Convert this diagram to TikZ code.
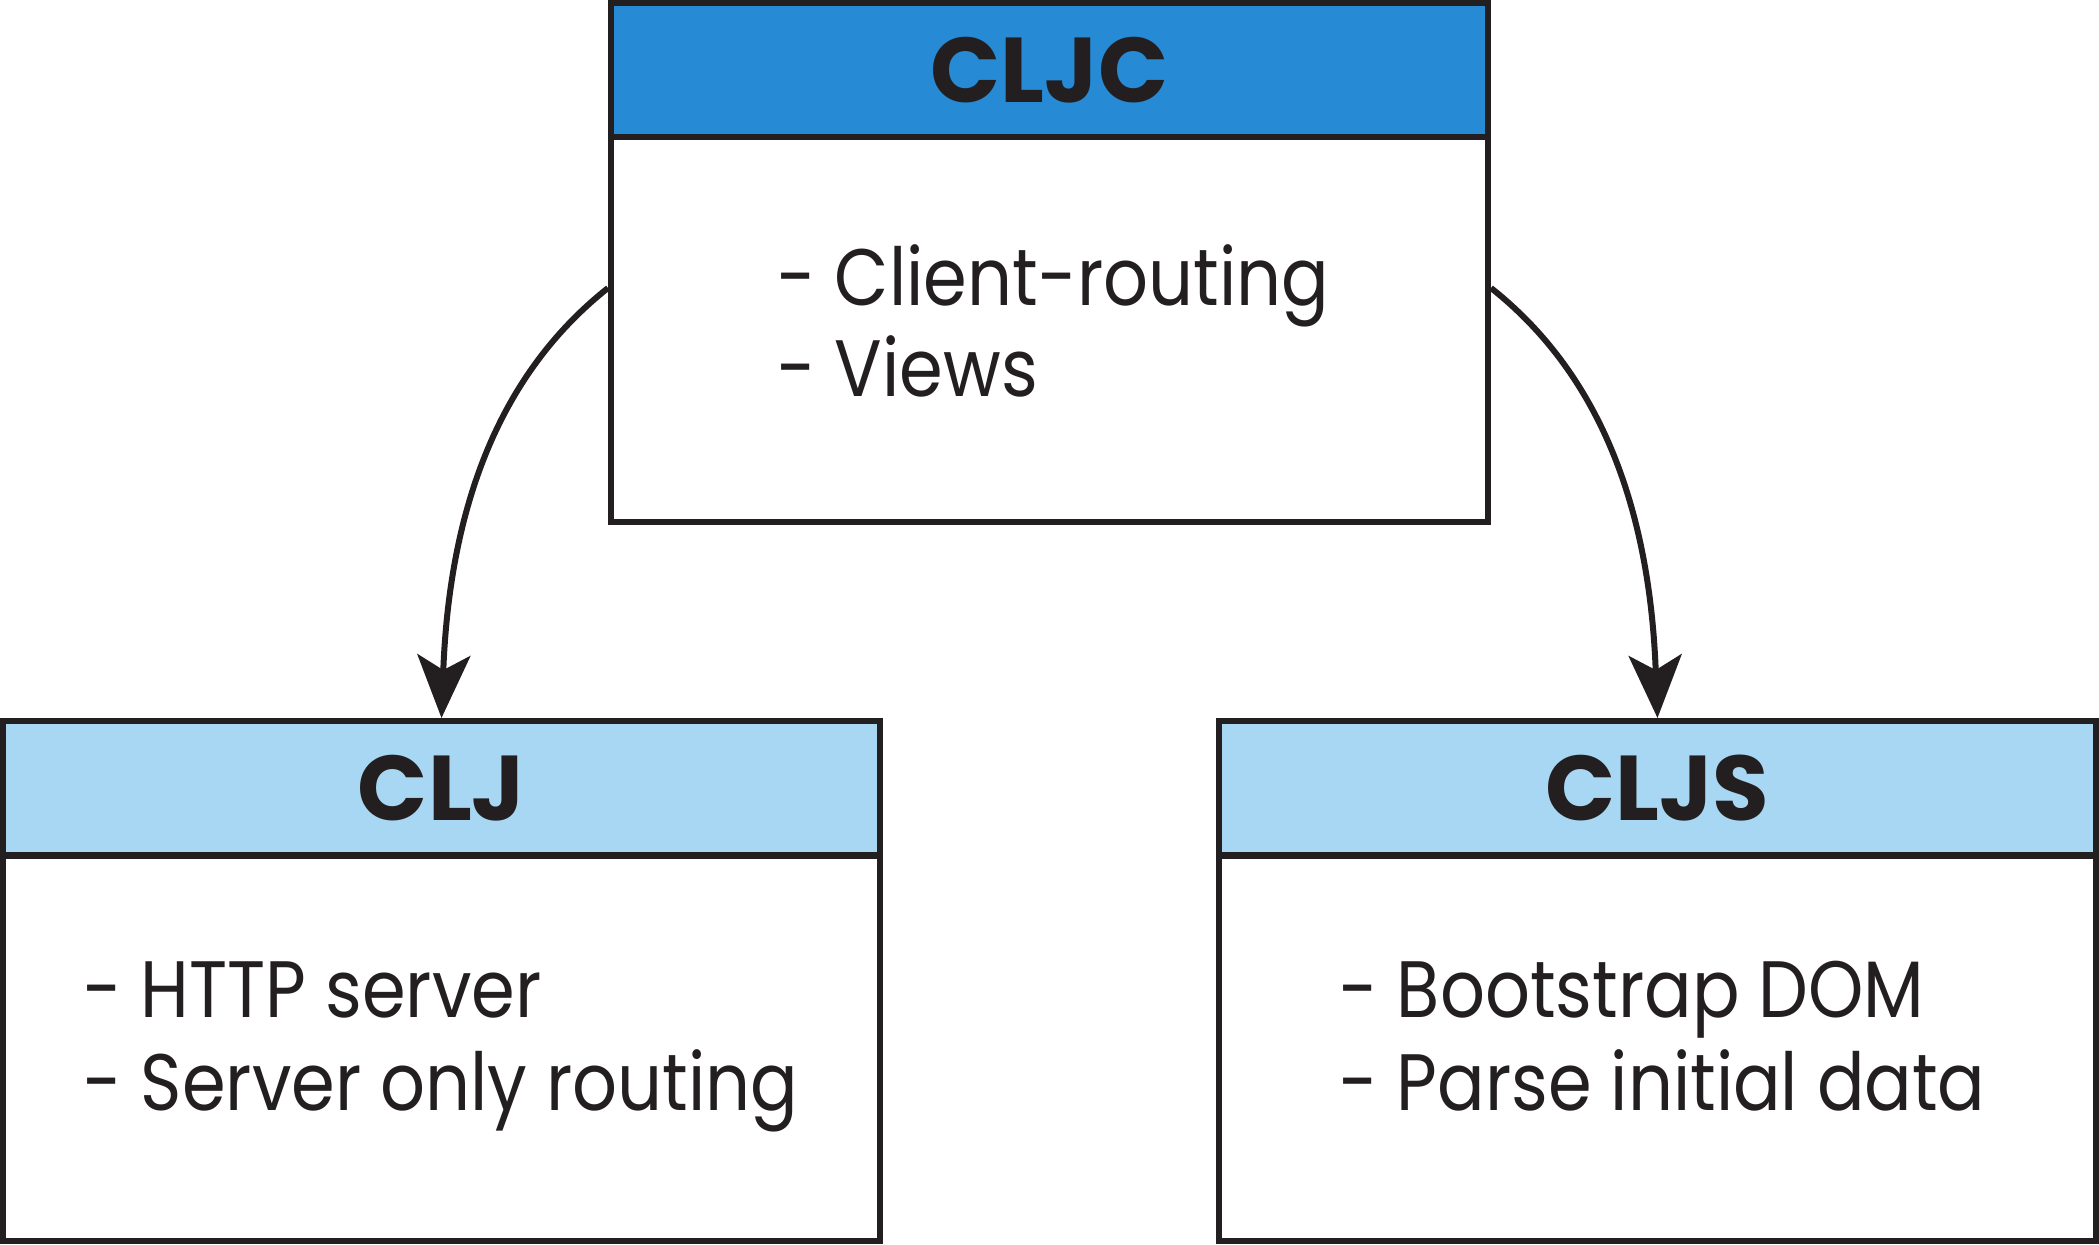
\documentclass[tikz,border=0pt]{standalone}
\usepackage{fontspec}
\setmainfont{Poppins}
\newfontfamily\bodyfont[FakeStretch=0.88]{Poppins}
\usetikzlibrary{arrows.meta}
\definecolor{ink}{HTML}{231F20}
\definecolor{darkhead}{HTML}{268AD4}
\definecolor{lighthead}{HTML}{A8D7F3}
\begin{document}
\begin{tikzpicture}[x=0.5pt,y=-0.5pt,
  box/.style={draw=ink,line width=3pt,rectangle,minimum width=438.5pt,inner sep=0pt},
  headbox/.style={box,minimum height=67pt,font=\fontsize{46}{50}\selectfont\bfseries,text=ink},
  bodybox/.style={box,fill=white,minimum height=192.5pt},
  bodytext/.style={anchor=base west,inner sep=0pt,font=\bodyfont\fontsize{40}{44}\selectfont,text=ink},
  link/.style={draw=ink,line width=3pt,-{Stealth[length=31.5pt,width=26.5pt,inset=7.5pt]}}]
\useasboundingbox (0,0) rectangle (2099,1244);
% top box
\node[bodybox] (topbody) at (1049.5,329) {};
\node[headbox,fill=darkhead] (tophead) at (1049.5,70) {CLJC};
\node[bodytext] (t1) at (777,305) {- Client-routing};
\node[bodytext] (t2) at (777,396) {- Views};
% left box
\node[bodybox] (leftbody) at (441.5,1048) {};
\node[headbox,fill=lighthead] (lefthead) at (441.5,788) {CLJ};
\node[bodytext] (l1) at (83,1017) {- HTTP server};
\node[bodytext] (l2) at (83,1110) {- Server only routing};
% right box
\node[bodybox] (rightbody) at (1657.5,1048) {};
\node[headbox,fill=lighthead] (righthead) at (1657.5,788) {CLJS};
\node[bodytext] (r1) at (1339,1017) {- Bootstrap DOM};
\node[bodytext] (r2) at (1339,1110) {- Parse initial data};
% connectors
\draw[link] ([yshift=20.5pt]topbody.west) .. controls +(-91,72) and +(9,-240) .. (lefthead.north);
\draw[link] ([yshift=20.5pt]topbody.east) .. controls +(91,72) and +(-9,-240) .. (righthead.north);
\end{tikzpicture}
\end{document}
